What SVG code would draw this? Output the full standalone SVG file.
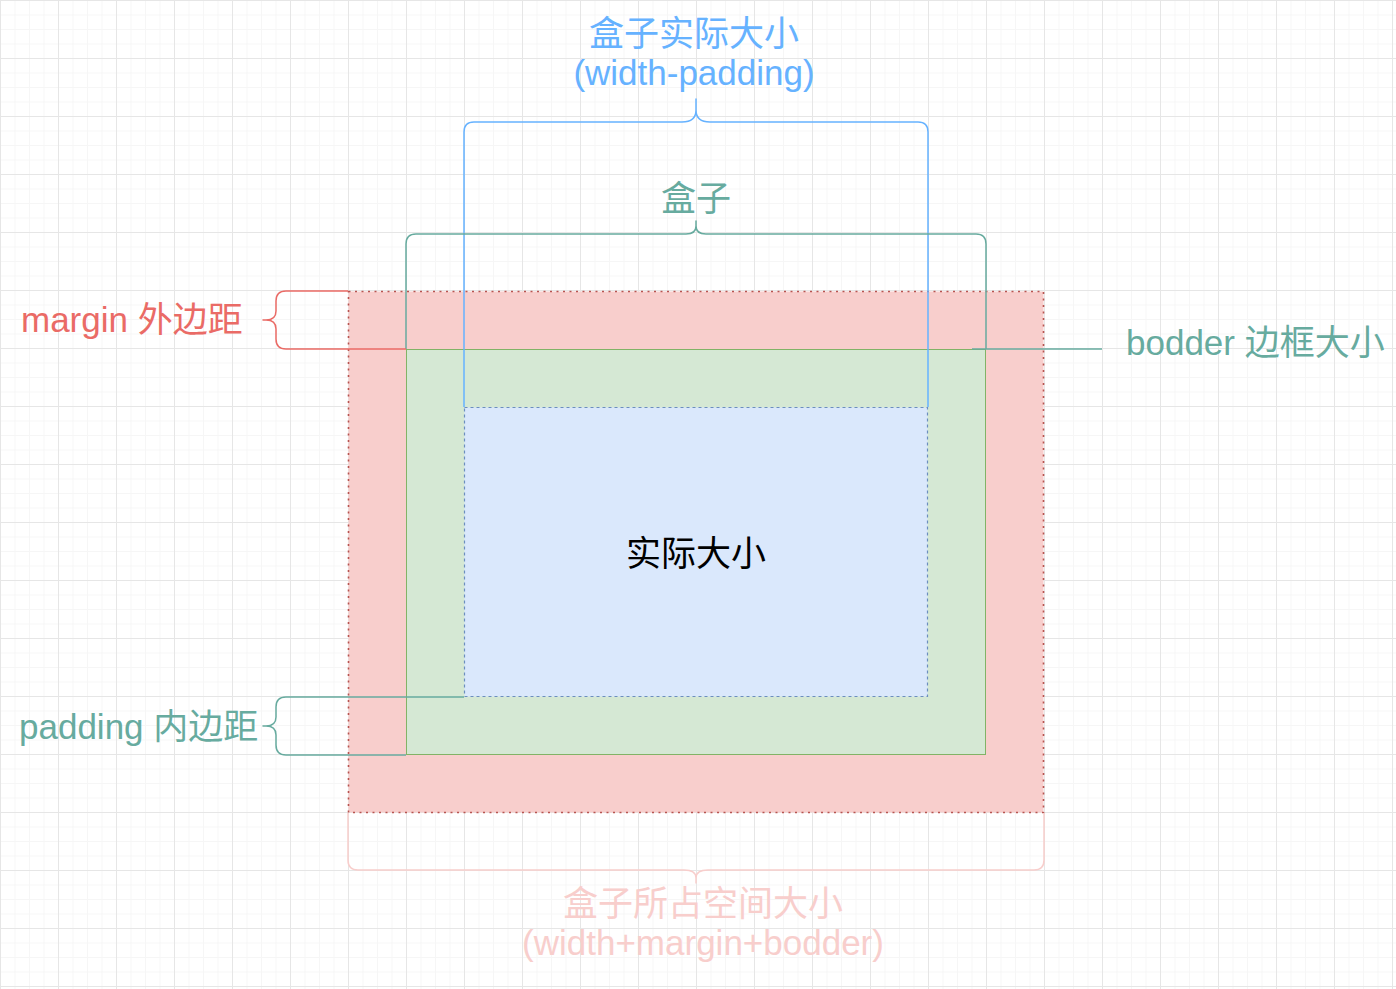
<svg xmlns="http://www.w3.org/2000/svg" width="1396" height="989" viewBox="0 0 1396 989">
<defs>
<pattern id="minor" width="14.5" height="14.5" patternUnits="userSpaceOnUse">
<path d="M0.5,0 V14.5 M0,0.5 H14.5" stroke="#f6f6f6" stroke-width="1" fill="none"/>
</pattern>
<pattern id="major" width="58" height="58" patternUnits="userSpaceOnUse">
<path d="M0.5,0 V58 M0,0.5 H58" stroke="#e6e6e6" stroke-width="1" fill="none"/>
</pattern>
</defs>
<style>
text{font-family:"Liberation Sans","Noto Sans CJK SC",sans-serif;font-size:35px}
.brace{fill:none;stroke-width:1.5;stroke-linejoin:round}
.blue{fill:#66B2FF}.green{fill:#67AB9F}.red{fill:#EA6B66}.pink{fill:#F8CECC}
</style>
<rect width="1396" height="989" fill="#ffffff"/>
<rect width="1396" height="989" fill="url(#minor)"/>
<rect width="1396" height="989" fill="url(#major)"/>

<g id="margin-box">
<rect x="348.5" y="291.5" width="695" height="521" fill="#F8CECC" stroke="#B85450" stroke-width="1.6" stroke-dasharray="2 4.5"/>
</g>
<g id="border-box">
<rect x="406.5" y="349.5" width="579" height="405" fill="#D5E8D4" stroke="#82B366" stroke-width="1"/>
</g>
<g id="content-box">
<rect x="464.5" y="407.5" width="463" height="289" fill="#DAE8FC" stroke="#6C8EBF" stroke-width="1.2" stroke-dasharray="3 3"/>
<text x="696" y="566" text-anchor="middle" fill="#000000">实际大小</text>
</g>

<g id="connectors">
<path class="brace" stroke="#66B2FF" d="M464,407 V132 Q464,122 474,122 H682 Q696,122 696,110 V99 V110 Q696,122 710,122 H918 Q928,122 928,132 V407"/>
<path class="brace" stroke="#67AB9F" d="M406,349 V244 Q406,234 416,234 H686 Q696,234 696,226 V221 V226 Q696,234 706,234 H976 Q986,234 986,244 V349"/>
<path class="brace" stroke="#EA6B66" d="M348,291 H286 Q276,291 276,301 V311 Q276,320 266,320 H263 H266 Q276,320 276,329 V339 Q276,349 286,349 H406"/>
<path class="brace" stroke="#67AB9F" d="M464,697 H286 Q276,697 276,707 V717 Q276,726 266,726 H263 H266 Q276,726 276,735 V745 Q276,755 286,755 H406"/>
<path class="brace" stroke="#F8CECC" d="M348,813 V860 Q348,870 358,870 H684 Q696,870 696,878 V883 V878 Q696,870 708,870 H1034 Q1044,870 1044,860 V813"/>
<path class="brace" stroke="#67AB9F" d="M972,349 H1102"/>
</g>

<g id="label-actual">
<text x="694" y="46" text-anchor="middle" class="blue">盒子实际大小</text>
<text x="694" y="85" text-anchor="middle" class="blue">(width-padding)</text>
</g>
<g id="label-box">
<text x="696" y="211" text-anchor="middle" class="green">盒子</text>
</g>
<g id="label-margin">
<text x="21" y="332" class="red">margin 外边距</text>
</g>
<g id="label-border">
<text x="1126" y="355" class="green">bodder 边框大小</text>
</g>
<g id="label-padding">
<text x="19" y="739" class="green">padding 内边距</text>
</g>
<g id="label-space">
<text x="703" y="916" text-anchor="middle" class="pink">盒子所占空间大小</text>
<text x="703" y="955" text-anchor="middle" class="pink">(width+margin+bodder)</text>
</g>
</svg>
